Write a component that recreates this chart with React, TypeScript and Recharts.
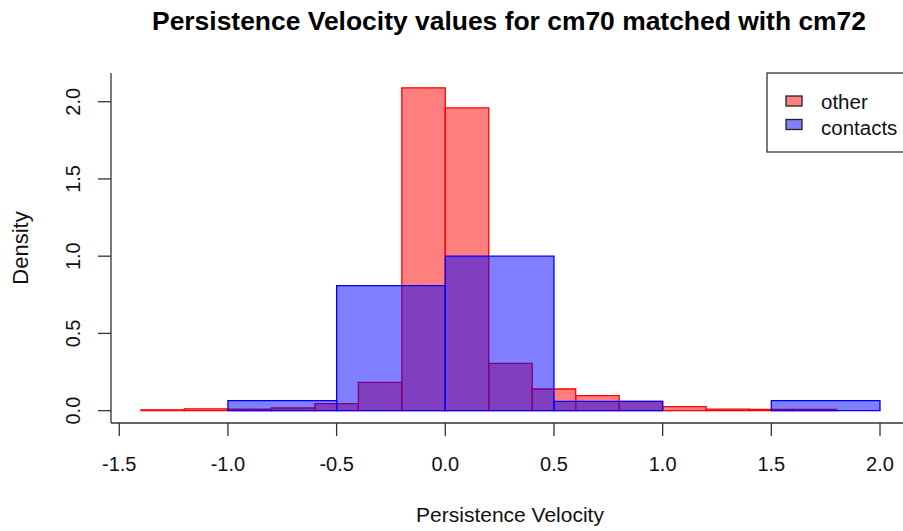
import React from 'react';
import { ComposedChart, XAxis, YAxis, ReferenceArea } from 'recharts';

// "other" histogram (bin width 0.2)
const OTHER_BREAKS = [-1.4, -1.2, -1.0, -0.8, -0.6, -0.4, -0.2, 0.0, 0.2, 0.4, 0.6, 0.8, 1.0, 1.2, 1.4, 1.6, 1.8];
const OTHER_DENSITY = [0.005, 0.012, 0.01, 0.017, 0.045, 0.183, 2.09, 1.96, 0.306, 0.14, 0.097, 0.06, 0.026, 0.01, 0.008, 0.008];

// "contacts" histogram (bin width 0.5)
const CONTACT_BREAKS = [-1.0, -0.5, 0.0, 0.5, 1.0, 1.5, 2.0];
const CONTACT_DENSITY = [0.065, 0.81, 1.0, 0.06, 0.0, 0.065];

const X_TICKS = [-1.5, -1.0, -0.5, 0.0, 0.5, 1.0, 1.5, 2.0];
const Y_TICKS = [0.0, 0.5, 1.0, 1.5, 2.0];
const X_DOMAIN = [-1.538, 2.138];
const Y_DOMAIN = [-0.08, 2.186];

const LEGEND_LABELS = ['other', 'contacts'];
const LEGEND_COLORS = ['#FF8080', '#8080FF'];

const TITLE = 'Persistence Velocity values for cm70 matched with cm72';
const X_LABEL = 'Persistence Velocity';
const Y_LABEL = 'Density';

const FONT = '"Liberation Sans", Arial, sans-serif';
const AXIS_COLOR = '#333';

const otherBins = OTHER_DENSITY.map((d, i) => ({ x1: OTHER_BREAKS[i], x2: OTHER_BREAKS[i + 1], y: d }));
const contactBins = CONTACT_DENSITY.map((d, i) => ({ x1: CONTACT_BREAKS[i], x2: CONTACT_BREAKS[i + 1], y: d }));
const chartData = otherBins.map((b) => ({ x: (b.x1 + b.x2) / 2, y: b.y }));

const XTick = (props: any) => {
  const { x, y, payload } = props;
  return (
    <text x={x} y={y + 33} textAnchor="middle" fontSize={20} fontFamily={FONT} fill="#111">
      {Number(payload.value).toFixed(1)}
    </text>
  );
};

const YTick = (props: any) => {
  const { x, y, payload } = props;
  const tx = x - 18;
  return (
    <text
      x={tx}
      y={y}
      transform={`rotate(-90, ${tx}, ${y})`}
      textAnchor="middle"
      fontSize={20}
      fontFamily={FONT}
      fill="#111"
    >
      {Number(payload.value).toFixed(1)}
    </text>
  );
};

export default function App() {
  return (
    <div style={{ position: 'absolute', left: 0, top: 0, width: 903, height: 531, overflow: 'hidden', background: '#fff' }}>
      <ComposedChart
        width={910}
        height={531}
        data={chartData}
        margin={{ top: 73, right: 0, bottom: 0, left: 0 }}
      >
        <XAxis
          dataKey="x"
          type="number"
          domain={X_DOMAIN}
          allowDataOverflow
          ticks={X_TICKS}
          interval={0}
          height={108}
          tickSize={13}
          tickMargin={2}
          axisLine={{ stroke: AXIS_COLOR, strokeWidth: 1.3 }}
          tickLine={{ stroke: AXIS_COLOR, strokeWidth: 1.3 }}
          tick={<XTick />}
        />
        <XAxis
          xAxisId="top"
          orientation="top"
          type="number"
          domain={X_DOMAIN}
          allowDataOverflow
          height={0}
          tick={false}
          tickLine={false}
          axisLine={{ stroke: AXIS_COLOR, strokeWidth: 1.3 }}
        />
        <YAxis
          type="number"
          domain={Y_DOMAIN}
          allowDataOverflow
          ticks={Y_TICKS}
          interval={0}
          width={111}
          tickSize={13}
          tickMargin={0}
          axisLine={{ stroke: AXIS_COLOR, strokeWidth: 1.3 }}
          tickLine={{ stroke: AXIS_COLOR, strokeWidth: 1.3 }}
          tick={<YTick />}
        />
        {otherBins.map((b, i) => (
          <ReferenceArea
            key={`o${i}`}
            x1={b.x1}
            x2={b.x2}
            y1={0}
            y2={b.y}
            fill="#FF0000"
            fillOpacity={0.5}
            stroke="#FF0000"
            strokeWidth={1.3}
            ifOverflow="visible"
          />
        ))}
        {contactBins.map((b, i) => (
          <ReferenceArea
            key={`c${i}`}
            x1={b.x1}
            x2={b.x2}
            y1={0}
            y2={b.y}
            fill="#0000FF"
            fillOpacity={0.5}
            stroke="#0000FF"
            strokeWidth={1.3}
            ifOverflow="visible"
          />
        ))}
      </ComposedChart>
      <svg
        width={903}
        height={531}
        style={{ position: 'absolute', left: 0, top: 0, pointerEvents: 'none' }}
      >
        <text
          x={509}
          y={30}
          textAnchor="middle"
          fontSize={25}
          fontWeight="bold"
          fontFamily={FONT}
          fill="#000"
          textLength={714}
          lengthAdjust="spacingAndGlyphs"
        >
          {TITLE}
        </text>
        <text x={510} y={522} textAnchor="middle" fontSize={21} fontFamily={FONT} fill="#111">
          {X_LABEL}
        </text>
        <text
          x={28}
          y={248}
          transform="rotate(-90, 28, 248)"
          textAnchor="middle"
          fontSize={22}
          fontFamily={FONT}
          fill="#111"
        >
          {Y_LABEL}
        </text>
        <rect x={767} y={73} width={150} height={79} fill="#fff" stroke={AXIS_COLOR} strokeWidth={1.3} />
        {LEGEND_LABELS.map((label, i) => (
          <g key={label}>
            <rect x={786} y={96 + i * 23.5} width={16} height={10} fill={LEGEND_COLORS[i]} stroke="#222" strokeWidth={1.3} />
            <text x={821} y={109 + i * 25.5} fontSize={20.5} fontFamily={FONT} fill="#111">
              {label}
            </text>
          </g>
        ))}
      </svg>
    </div>
  );
}
